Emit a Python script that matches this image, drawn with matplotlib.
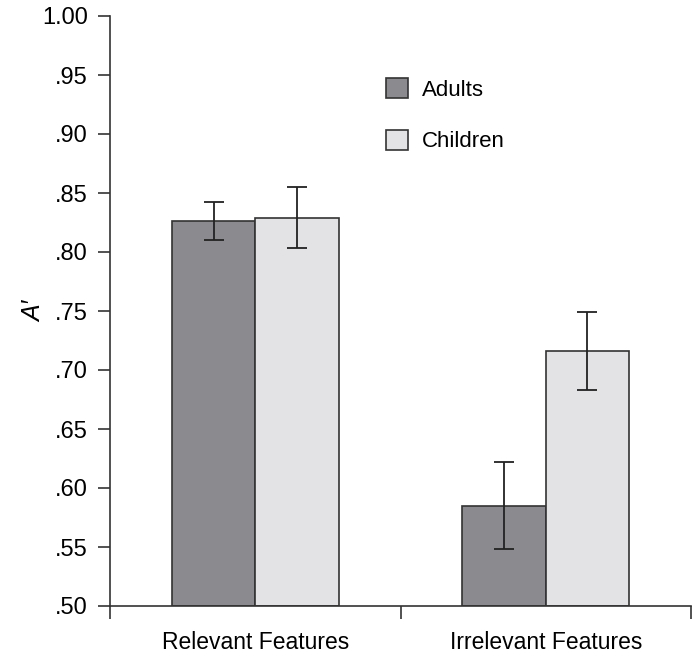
import numpy as np
import matplotlib.pyplot as plt
from matplotlib.ticker import FixedLocator, FuncFormatter

plt.rcParams['font.family'] = ['Liberation Sans Narrow', 'Liberation Sans', 'DejaVu Sans']

# --- data ---
categories = ['Relevant Features', 'Irrelevant Features']
groups = ['Adults', 'Children']
means = {'Adults': [0.826, 0.585], 'Children': [0.829, 0.716]}
errors = {'Adults': [0.016, 0.037], 'Children': [0.026, 0.033]}
colors = {'Adults': '#8b8b8f', 'Children': '#e3e3e5'}
y_ticks = [0.50, 0.55, 0.60, 0.65, 0.70, 0.75, 0.80, 0.85, 0.90, 0.95, 1.00]

fig = plt.figure(figsize=(6.95, 6.55), dpi=100)
ax = fig.add_axes([110 / 695, 49 / 655, 581 / 695, 590 / 655])

x = np.arange(len(categories)) + 0.5
width = 0.287
offsets = [-width / 2, width / 2]
for g, off in zip(groups, offsets):
    ax.bar(x + off, [m - 0.5 for m in means[g]], width, bottom=0.5,
           color=colors[g], edgecolor='#333333', linewidth=1.2, label=g)
    ax.errorbar(x + off, means[g], yerr=errors[g], fmt='none',
                ecolor='#222222', elinewidth=1.3, capsize=7, capthick=1.3)

ax.set_xlim(0, 2)
ax.set_ylim(0.5, 1.0)
ax.yaxis.set_major_locator(FixedLocator(y_ticks))
ax.yaxis.set_major_formatter(FuncFormatter(
    lambda v, p: '1.00' if v >= 0.999 else ('%.2f' % v)[1:]))
ax.set_xticks([0, 1, 2])
ax.set_xticklabels([])
ax.set_xticks(x, minor=True)
ax.set_xticklabels(categories, minor=True, fontsize=16.5)
ax.tick_params(axis='x', which='minor', length=0, pad=18)
ax.tick_params(axis='x', which='major', length=9, width=1.2, color='#333333')
ax.tick_params(axis='y', length=9, width=1.2, color='#333333', labelsize=17, pad=7)

for s in ['top', 'right']:
    ax.spines[s].set_visible(False)
for s in ['left', 'bottom']:
    ax.spines[s].set_linewidth(1.2)
    ax.spines[s].set_color('#333333')

ax.set_ylabel('A\u2032', fontsize=18, style='italic', labelpad=-3)

ax.legend(loc='upper left', bbox_to_anchor=(0.44, 0.928), frameon=False,
          fontsize=16, handlelength=1.0, handleheight=1.0,
          labelspacing=1.3, handletextpad=0.65)

fig.savefig('out.png', dpi=100)
